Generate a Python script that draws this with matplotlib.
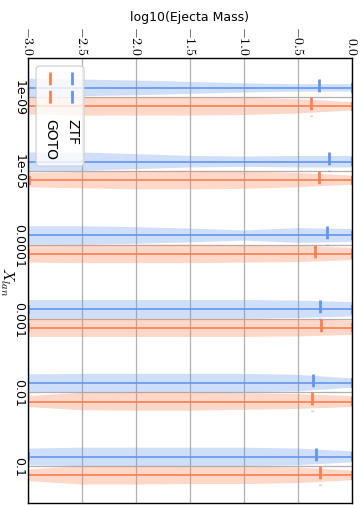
import matplotlib
matplotlib.use('Agg')
import matplotlib.pyplot as plt
import numpy as np
from matplotlib.patches import FancyBboxPatch
from matplotlib.lines import Line2D

plt.rcParams['mathtext.fontset'] = 'cm'

# categories of X_lan (top to bottom)
categories = ['1e-09', '1e-05', '0.0001', '0.001', '0.01', '0.1']
# log10(ejecta mass) points where the violin width was read
coords = [-3.0, -2.5, -2.0, -1.5, -1.0, -0.5, 0.0]
# relative half widths of the violins at those points
ztf_width = [[10, 9, 8, 6.5, 5, 4, 4],
             [8, 8, 6.5, 5, 4.5, 5, 5],
             [10, 10, 9, 7.5, 5.5, 8, 7],
             [9, 9, 9, 9, 9, 8.5, 7],
             [9.5, 10, 10, 10, 10, 9, 5],
             [9, 10, 10, 10, 10, 9, 6]]
goto_width = [[8, 9, 9, 9, 8.5, 7, 4],
              [7, 8, 9, 9, 8.5, 7, 4.5],
              [8.5, 9, 9, 9, 8.5, 8, 6],
              [9, 9, 9, 9, 9, 8.5, 7],
              [6, 9.5, 10, 10, 9, 8, 6],
              [6, 9.5, 9.5, 9, 9, 8, 5]]
ztf_median = [-0.31, -0.21, -0.235, -0.30, -0.36, -0.33]
goto_median = [-0.38, -0.31, -0.345, -0.29, -0.37, -0.30]
ztf_min = [-3.05, -3.0, -3.0, -2.99, -3.0, -2.99]
goto_min = [-3.05, -2.98, -2.99, -2.99, -3.0, -3.0]
ztf_max = [0.0, 0.0, 0.0, 0.0, 0.0, 0.0]
goto_max = [0.0, 0.0, 0.0, 0.0, 0.0, 0.0]

blue = 'cornflowerblue'
orange = 'coral'
dash = (0, (4.6, 2))
w = 0.25

fig = plt.figure(figsize=(3.64, 5.06), dpi=100)
ax = fig.add_axes([28/364, 2/506, 324/364, 445/506])

def draw(widths, med, mins, maxs, offset, color):
    stats = []
    for i in range(len(categories)):
        stats.append({'coords': np.array(coords), 'vals': np.array(widths[i], dtype=float),
                      'mean': med[i], 'median': med[i], 'min': mins[i], 'max': maxs[i]})
    pos = np.arange(len(categories)) + offset
    parts = ax.violin(stats, positions=pos, widths=w, orientation='horizontal',
                      showmeans=False, showextrema=True, showmedians=False)
    for b in parts['bodies']:
        b.set_facecolor(color)
        b.set_edgecolor('none')
        b.set_alpha(0.3)
    for k in ['cbars', 'cmins', 'cmaxes']:
        parts[k].set_color(color)
        parts[k].set_linewidth(1.2)
    ax.vlines(med, pos - w/2, pos + w/2, colors=color, linestyles=dash, lw=2)

draw(ztf_width, ztf_median, ztf_min, ztf_max, -0.125, blue)
draw(goto_width, goto_median, goto_min, goto_max, 0.125, orange)

ax.set_xlim(-3.0, 0.0)
ax.set_ylim(5.5, -0.53)
xt = [-3.0, -2.5, -2.0, -1.5, -1.0, -0.5, 0.0]
ax.set_xticks(xt)
ax.set_xticklabels(['$%.1f$' % v for v in xt], rotation=-90, fontsize=10)
ax.xaxis.tick_top()
ax.xaxis.set_label_position('top')
ax.set_xlabel('log10(Ejecta Mass)', fontsize=9, labelpad=4)
ax.set_yticks(range(len(categories)))
ax.set_yticklabels(categories, rotation=-90, fontsize=9, va='center')
ax.set_ylabel('$X_{lan}$', rotation=-90, fontsize=11, va='center', ha='center')
ax.yaxis.label.set_rotation_mode('default')
ax.yaxis.set_label_coords(-0.064, 0.5)
ax.tick_params(length=0, pad=2)
ax.grid(True, color='#b0b0b0', lw=0.9)
ax.set_axisbelow(True)
for s in ax.spines.values():
    s.set_color('black')
    s.set_linewidth(1.0)

# legend, turned like the rest of the figure
box = FancyBboxPatch((0.025, 0.757), 0.148, 0.225, transform=ax.transAxes,
                     boxstyle='round,pad=0,rounding_size=0.012', mutation_aspect=0.73,
                     facecolor='white', edgecolor='0.8', alpha=0.8, zorder=5)
ax.add_patch(box)
for x, c, lab in [(0.068, orange, 'GOTO'), (0.136, blue, 'ZTF')]:
    ax.add_line(Line2D([x, x], [0.9685, 0.897], transform=ax.transAxes, color=c,
                       lw=2, linestyle=dash, zorder=6))
    ax.text(x, 0.865, lab, transform=ax.transAxes, rotation=-90, ha='center', va='top',
            fontsize=10, zorder=6)

fig.savefig('out.png', dpi=100)
